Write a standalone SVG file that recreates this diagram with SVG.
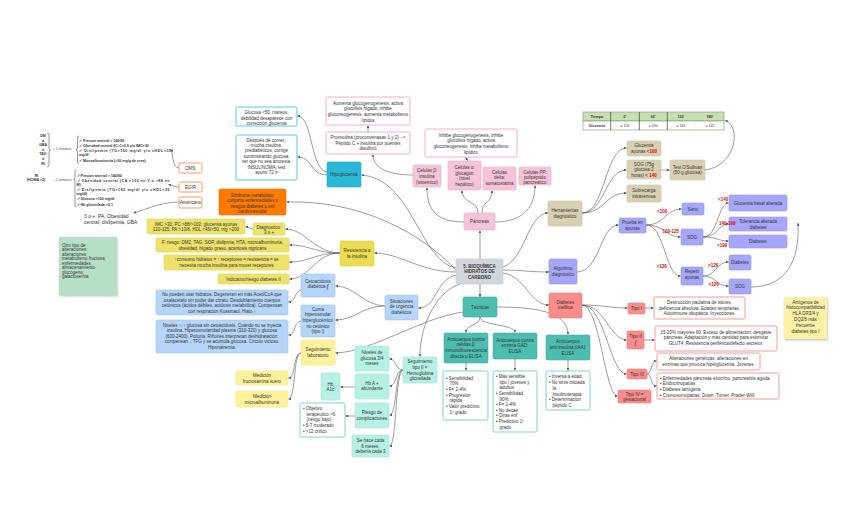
<svg xmlns="http://www.w3.org/2000/svg" width="848" height="530" viewBox="0 0 848 530">
<defs>
<marker id="ah" viewBox="0 0 10 10" refX="9" refY="5" markerWidth="3.2" markerHeight="3.2" markerUnits="userSpaceOnUse" orient="auto"><path d="M0,1 L10,5 L0,9 z" fill="#555"/></marker>
<filter id="sh" x="-10%" y="-10%" width="130%" height="130%"><feDropShadow dx="0.6" dy="1.2" stdDeviation="0.8" flood-color="#000" flood-opacity="0.25"/></filter>
</defs>
<style>
.c path{fill:none;stroke:#5a5a5a;stroke-width:0.6;marker-end:url(#ah)}
.br{fill:none;stroke:#333;stroke-width:0.5}
text{font-family:"Liberation Sans",Arial,sans-serif;font-size:4.5px;fill:#333}
.m{text-anchor:middle}
.bd{font-weight:bold}
.red{fill:#e00000;font-weight:bold}
.sm{font-size:3.6px}
.xs{font-size:3.2px;fill:#555}
.ic{font-family:"Liberation Serif",serif;font-style:italic;font-weight:bold;fill:#4a3ccc;text-decoration:underline;font-size:5.2px}
rect{stroke-width:0.6}
.gry rect{fill:#d3d6dd;stroke:#c4c7ce}
.yel rect{fill:#ecdc50;stroke:#ddcc40}
.yl1 rect{fill:#eee26a;stroke:#e2d455}
.yl2 rect{fill:#fff29c;stroke:#f2e488}
.blu rect{fill:#b5d5fb;stroke:#a2c4f0}
.tl rect{fill:#b5f2e4;stroke:#a2e6d6}
.tea rect{fill:#4cbdb1;stroke:#40aea2}
.pnk rect{fill:#f7c3d8;stroke:#eeb0c8}
.wpk rect{fill:#fff;stroke:#f2a6c4;stroke-width:0.9}
.cyn rect{fill:#2ab8d8;stroke:#20a9c9}
.wcy rect{fill:#fff;stroke:#3ec3e3;stroke-width:0.9}
.org rect{fill:#ff7a00;stroke:#f07000}
.wor rect{fill:#fff;stroke:#ff9040;stroke-width:0.9}
.tan rect{fill:#d8d0b2;stroke:#cbc3a3}
.pur rect{fill:#a6a6fa;stroke:#9494f0}
.sal rect{fill:#fa8c8c;stroke:#f07a7a}
.wsl rect{fill:#fff;stroke:#f59090;stroke-width:0.9}
.wtl rect{fill:#fff;stroke:#6fd0c4;stroke-width:0.9}
.nt1 rect{fill:#fbf2a6}
.nt2 rect{fill:#b6e0c6}
</style>
<rect width="848" height="530" fill="#fff"/>

<g id="connectors" class="c">
<path d="M480,259 L480,230.5"/>
<path d="M480,284 L480,297"/>
<path d="M503,270 C520,270 530,272 549,272"/>
<path d="M503,273 C525,276 530,305 549,305"/>
<path d="M503,267 C525,260 528,213 548,213"/>
<path d="M456,268 C420,262 412,178 361.5,175"/>
<path d="M456,270 C420,232 360,200 286.5,202"/>
<path d="M456,272 C420,272 400,253 374.5,253"/>
<path d="M456,275 C435,280 437,308 418.5,308"/>
<path d="M460,284 C440,290 420,320 420,356.5"/>
<path d="M463,312 C420,318 372,352 335.5,353"/>
<path d="M480,317 C480,326 466,324 466,332.5"/>
<path d="M480,317 C480,326 515,324 515,332.5"/>
<path d="M497,307 C545,307 568,315 568,334.5"/>
<path d="M466,363 L466,370.5"/>
<path d="M515,359 L515,370.5"/>
<path d="M568,360 L568,370.5"/>
<path d="M464,222 C432,222 427,205 427,187.5"/>
<path d="M478,213 C478,200 462,204 462,190.5"/>
<path d="M482,213 C482,200 492,204 492,190.5"/>
<path d="M495,222 C525,222 535,205 535,185.5"/>
<path d="M413,175 C392,175 373,170 373,154.5"/>
<path d="M368,132 L368,125.5"/>
<path d="M468,161 L465.5,157.5"/>
<path d="M327,172 C310,170 313,116 297.5,116"/>
<path d="M327,175 C310,175 313,157 297.5,157"/>
<path d="M340,253 C315,253 305,229 285.5,229"/>
<path d="M340,253 C315,253 310,245 289.5,245"/>
<path d="M340,253 C315,253 310,262 289.5,262"/>
<path d="M340,253 C315,253 310,279 289.5,279"/>
<path d="M253,229 C250,229 250,227 245.5,227"/>
<path d="M385,306 C362,305 355,286 335.5,286"/>
<path d="M385,306 C362,306 355,320 335.5,320"/>
<path d="M301,290 C294,292 296,302 288.5,302"/>
<path d="M301,321 C293,322 296,335 288.5,335"/>
<path d="M301,353 C293,353 296,378 288.5,378"/>
<path d="M301,353 C293,353 296,399 288.5,399"/>
<path d="M403,370 C395,370 397,359 389.5,359"/>
<path d="M403,370 C395,370 397,386 389.5,386"/>
<path d="M403,370 C395,370 397,415 389.5,415"/>
<path d="M403,370 C395,370 397,446 389.5,446"/>
<path d="M355,387 L340.5,387"/>
<path d="M355,416 L345.5,416"/>
<path d="M582,213 C605,213 605,148 626.5,148"/>
<path d="M582,213 C605,213 605,170 626.5,170"/>
<path d="M582,213 C605,213 605,193 626.5,193"/>
<path d="M661,170 L669.5,170"/>
<path d="M705,170 C736,166 742,126 725,120.5"/>
<path d="M577,272 C600,272 600,225 618.5,225"/>
<path d="M646,225 C665,225 665,209 681.5,209"/>
<path d="M646,225 C665,225 665,237 680.5,237"/>
<path d="M646,225 C665,225 665,276 680.5,276"/>
<path d="M703,237 C718,237 718,203 728.5,203"/>
<path d="M703,237 C718,237 718,224 728.5,224"/>
<path d="M703,237 C718,237 718,241 728.5,241"/>
<path d="M703,276 C716,276 716,262 728.5,262"/>
<path d="M703,276 C716,276 716,286 728.5,286"/>
<path d="M751,287 C785,287 800,262 798,223"/>
<path d="M582,305 C605,305 610,308 627.5,308"/>
<path d="M582,305 C605,305 610,340 626.5,340"/>
<path d="M582,305 C605,305 610,374 626.5,374"/>
<path d="M582,305 C600,305 605,396 617.5,396"/>
<path d="M645,308 L653.5,308"/>
<path d="M644,340 L654.5,340"/>
<path d="M647,374 C652,374 650,361 656.5,361"/>
<path d="M647,374 C652,374 650,386 656.5,386"/>
<path d="M179,168 C172,168 173,151 170.5,149.5"/>
<path d="M179,187 C175,187 172,185 168.5,184.5"/>
<path d="M179,202 C160,202 145,210 133.5,213"/>
</g>

<!-- left text blocks -->
<g id="criteria">
<text class="m bd sm" x="43" y="137"><tspan x="43">DM</tspan><tspan x="43" dy="4.6">ó</tspan><tspan x="43" dy="4.6">GBA</tspan><tspan x="43" dy="4.6">ó</tspan><tspan x="43" dy="4.6">TAG</tspan><tspan x="43" dy="4.6">ó</tspan><tspan x="43" dy="4.6">RI</tspan></text>
<path class="br" d="M47,133 Q49,133 49,135 L49,148 Q49,150 50.5,150 Q49,150 49,152 L49,165 Q49,167 47,167"/>
<text class="xs" x="53" y="150.3">+ 2 síntomas</text>
<path class="br" d="M79,136 Q77.5,136 77.5,138 L77.5,148 Q77.5,150 76,150 Q77.5,150 77.5,152 L77.5,162 Q77.5,164 79,164"/>
<text class="bd sm" x="79" y="142.2">✓ Presion arterial &gt; 140/90</text>
<text class="bd sm" x="79" y="147">✓ Obesidad central (IC-C&gt;0,9 y/o IMC&gt;30</text>
<text class="bd sm" x="79" y="152" textLength="92" lengthAdjust="spacing">✓ Dislipemia (TG&gt;160 mg/dl y/o cHDL&lt;35</text>
<text class="bd sm" x="79" y="156.3">mg/dl</text>
<text class="bd sm" x="79" y="161.5">✓ Microalbuminuria (&gt;30 mg/g de crea)</text>

<text class="m bd sm" x="36.5" y="176.5">RI</text>
<text class="m bd sm" x="36" y="180.6">(HOMA &gt;3)</text>
<text class="xs" x="53" y="180.5">+ 2 síntomas</text>
<path class="br" d="M76.5,170 Q75,170 75,172 L75,177 Q75,179 73.5,179 Q75,179 75,181 L75,205 Q75,207 76.5,207"/>
<text class="bd sm" x="76.5" y="176.6">✓ Presion arterial &gt; 140/90</text>
<text class="bd sm" x="76.5" y="181.6" textLength="93" lengthAdjust="spacing">✓ Obesidad central (CA &gt;102 en V o &gt;88 en</text>
<text class="bd sm" x="76.5" y="186">M)</text>
<text class="bd sm" x="76.5" y="190.6" textLength="93" lengthAdjust="spacing">✓ Dislipemia (TG&gt;160 mg/dl y/o cHDL&lt;35</text>
<text class="bd sm" x="76.5" y="195.3">mg/dl)</text>
<text class="bd sm" x="76.5" y="200.3">✓ Glucosa &gt;100 mg/dl</text>
<text class="bd sm" x="76.5" y="205.6">✓ Hb glicosilada &gt;6.1</text>

<text style="font-size:5px" x="84" y="217.5">3 o +: PA, Obesidad</text>
<text style="font-size:5px" x="84" y="223.6">central, dislipemia, GBA</text>
</g>

<g id="n-oms" class="wor"><rect x="179" y="163" width="23" height="10" rx="1.5"/><text class="m" x="190.5" y="169.5">OMS</text></g>
<g id="n-egir" class="wor"><rect x="179" y="182" width="23" height="10" rx="1.5"/><text class="m" x="190.5" y="188.5">EGIR</text></g>
<g id="n-americano" class="wor"><rect x="179" y="197" width="23" height="11" rx="1.5"/><text class="m" x="190.5" y="204">Americano</text></g>

<g id="n-central" class="gry"><rect x="456" y="259" width="47" height="25" rx="1.5"/><text class="m bd" x="479.5" y="267.5">5. BIOQUÍMICA</text><text class="m bd" x="479.5" y="273.2">HIDRATOS DE</text><text class="m bd" x="479.5" y="278.8">CARBONO</text></g>

<g id="n-pancreas" class="pnk"><rect x="464" y="213" width="31" height="17" rx="1.5"/><text class="m" x="479.5" y="223">Páncreas</text></g>
<g id="n-cbeta" class="pnk"><rect x="413" y="165" width="28" height="22" rx="1.5"/><text class="m" x="427" y="171.5">Celulas β:</text><text class="m" x="427" y="177.5">insulina</text><text class="m" x="427" y="183.5">(sistemico)</text></g>
<g id="n-calfa" class="pnk"><rect x="448" y="161" width="33" height="29" rx="1.5"/><text class="m" x="464.5" y="168.8">Celulas α:</text><text class="m" x="464.5" y="174.6">glucagón</text><text class="m" x="464.5" y="180.4">(nivel</text><text class="m" x="464.5" y="186.2">hepático)</text></g>
<g id="n-cdelta" class="pnk"><rect x="483" y="167" width="33" height="23" rx="1.5"/><text class="m" x="499.5" y="173.8">Celulas</text><text class="m" x="499.5" y="179.4">delta:</text><text class="m" x="499.5" y="185.2">somatostatina</text></g>
<g id="n-cpp" class="pnk"><rect x="519" y="167" width="32" height="18" rx="1.5"/><text class="m" x="535" y="173.6">Celulas PP:</text><text class="m" x="535" y="178.8">polipéptido</text><text class="m" x="535" y="184">pancreático</text></g>
<g id="n-inhibe" class="wpk"><rect x="425" y="129" width="92" height="28" rx="1.5"/><text class="m" x="471" y="136.6">Inhibe glucogenogenesis, inhibe</text><text class="m" x="471" y="142.2">glucólisis hígado, activa</text><text class="m" x="471" y="147.8">gluconeogenesis, inhibe metabolismo</text><text class="m" x="471" y="153.6">lipídico</text></g>
<g id="n-proinsulina" class="wpk"><rect x="326" y="132" width="84" height="22" rx="1.5"/><text class="m" x="368" y="138.8">Proinsulina (proconvertasas 1 y 2) --&gt;</text><text class="m" x="368" y="144.5">Péptido C + insulina por puentes</text><text class="m" x="368" y="150.2">disulfuro</text></g>
<g id="n-aumenta" class="wpk"><rect x="326" y="97" width="84" height="28" rx="1.5"/><text class="m" x="368" y="104.8">Aumenta glucogenogénesis, activa</text><text class="m" x="368" y="110.4">glucólisis hígado, inhibe</text><text class="m" x="368" y="116">gluconeogenesis, aumenta metabolismo</text><text class="m" x="368" y="121.6">lípidos</text></g>

<g id="n-hipoglucemia" class="cyn"><rect x="327" y="162" width="34" height="25" rx="1.5"/><text class="m" x="344" y="176.3">Hipoglucemia</text></g>
<g id="n-glucosa50" class="wcy"><rect x="236" y="107" width="61" height="19" rx="1.5"/><text class="m" x="266.5" y="114.2">Glucosa &lt;50, mareos,</text><text class="m" x="266.5" y="119.8">debilidad desaparece con</text><text class="m" x="266.5" y="125.2">corrección glucemia</text></g>
<g id="n-despues" class="wcy"><rect x="236" y="135" width="61" height="45" rx="1.5"/><text class="m" x="266.5" y="141.5">Después de comer,,</text><text class="m" x="266.5" y="146.9">mucha insulina,</text><text class="m" x="266.5" y="152.3">prediabéticos, corrige</text><text class="m" x="266.5" y="157.7">suministrando glucosa,</text><text class="m" x="266.5" y="163.1">ver que no sea anorexia,</text><text class="m" x="266.5" y="168.5">INSULINOMA, test</text><text class="m" x="266.5" y="173.9">ayuno 72 h</text></g>

<g id="n-sindrome" class="org"><rect x="219" y="189" width="67" height="26" rx="1.5"/><text class="m" x="252.5" y="196.5">Síndrome metabólico:</text><text class="m" x="252.5" y="202.1">conjunto enfermedades o</text><text class="m" x="252.5" y="207.7">riesgos diabetes o enf</text><text class="m" x="252.5" y="213.3">cardiovascular</text></g>

<g id="n-resistencia" class="yel"><rect x="340" y="241" width="34" height="25" rx="1.5"/><text class="m" x="357" y="252.2">Resistencia a</text><text class="m" x="357" y="257.6">la insulina</text></g>
<g id="n-diagnostico" class="yl1"><rect x="253" y="223" width="32" height="12" rx="1.5"/><text class="m" x="269" y="228.8">Diagnóstico:</text><text class="m" x="269" y="233.8">3 o +</text></g>
<g id="n-imc" class="yl1"><rect x="147" y="219" width="98" height="15" rx="1.5"/><text class="m" x="196" y="225.6">IMC &gt;30, PC &gt;88/&gt;102, glucemia ayunas</text><text class="m" x="196" y="231.4">110-125, PA &gt;13/8, HDL &lt;45/&lt;50, trig &gt;200</text></g>
<g id="n-friesgo" class="yl1"><rect x="156" y="238" width="133" height="14" rx="1.5"/><text class="m" x="222.5" y="244.2">F. riesgo: DM2, TAG, SOP, dislipmia, HTA, microalbuminuria,</text><text class="m" x="222.5" y="249.8">obesidad, hígado graso, acantosis nigricans</text></g>
<g id="n-consumo" class="yl1"><rect x="164" y="255" width="125" height="15" rx="1.5"/><text class="m" x="226.5" y="261.4">↑consumo hidratos = ↑ receptores = resistencia = se</text><text class="m" x="226.5" y="267.2">necesita mucha insulina para mover receptores</text></g>
<g id="n-indicativo" class="yl1"><rect x="218" y="274" width="71" height="10" rx="1.5"/><text class="m" x="253.5" y="280.5">Indicativo/riesgo diabetes II</text></g>

<g id="n-situaciones" class="blu"><rect x="385" y="295" width="33" height="25" rx="1.5"/><text class="m" x="401.5" y="302.5">Situaciones</text><text class="m" x="401.5" y="308.1">de urgencia</text><text class="m" x="401.5" y="313.7">diabéticos</text></g>
<g id="n-cetoacidosis" class="blu"><rect x="301" y="274" width="34" height="23" rx="1.5"/><text class="m" x="318" y="282.5">Cetoacidosis</text><text class="m" x="318" y="288.4">diabética <tspan class="ic">f</tspan></text></g>
<g id="n-coma" class="blu"><rect x="301" y="305" width="34" height="32" rx="1.5"/><text class="m" x="318" y="310.8">Coma</text><text class="m" x="318" y="316.4">hiperosmolar</text><text class="m" x="318" y="322">hiperglucémico</text><text class="m" x="318" y="327.6">no cetónico</text><text class="m" x="318" y="333.2">(tipo I)</text></g>
<g id="n-nopueden" class="blu"><rect x="156" y="290" width="132" height="25" rx="1.5"/><text class="m" x="222" y="296.2">No pueden usar hidratos. Degeneran en más AcetilCoA  que</text><text class="m" x="222" y="301.8">oxalacetato sin poder dar citrato. Desdoblamiento cuerpos</text><text class="m" x="222" y="307.4">cetónicos (ácidos débiles, acidosis metabólica). Compensan</text><text class="m" x="222" y="313">con respiración Kussmaul. Hiato ↑</text></g>
<g id="n-niveles" class="blu"><rect x="156" y="320" width="132" height="33" rx="1.5"/><text class="m" x="222" y="326.5">Niveles ↑↑↑ glucosa sin cetoacidosis. Cuando no se inyecta</text><text class="m" x="222" y="332.1">insulina. Hiperosmolaridad plasma (310-320) y glucosa</text><text class="m" x="222" y="337.7">(600-2400). Poliuria. Riñones interpretan deshidratación:</text><text class="m" x="222" y="343.3">compensan ↓ TFG y se acumula glucosa. Círculo vicioso.</text><text class="m" x="222" y="348.9">Hiponatremia.</text></g>

<g id="n-seglab" class="yl2"><rect x="301" y="340" width="34" height="25" rx="1.5"/><text class="m" x="318" y="350.8">Seguimiento</text><text class="m" x="318" y="356.6">laboratorio</text></g>
<g id="n-fructosamina" class="yl2"><rect x="236" y="371" width="52" height="14" rx="1.5"/><text class="m" x="262" y="377.3">Medición</text><text class="m" x="262" y="382.6">fructosamina suero</text></g>
<g id="n-microalb" class="yl2"><rect x="236" y="391" width="52" height="16" rx="1.5"/><text class="m" x="262" y="398.2">Medición</text><text class="m" x="262" y="403.8">microalbuminuria</text></g>

<g id="n-segII" class="tl"><rect x="403" y="357" width="34" height="26" rx="1.5"/><text class="m" x="420" y="363.2">Seguimiento</text><text class="m" x="420" y="368.9">tipo II =</text><text class="m" x="420" y="374.6">Hemoglobina</text><text class="m" x="420" y="380.3">glicosilada</text></g>
<g id="n-nivglu" class="tl"><rect x="355" y="346" width="34" height="25" rx="1.5"/><text class="m" x="372" y="354.2">Niveles de</text><text class="m" x="372" y="359.8">glucosa 3/4</text><text class="m" x="372" y="365.4">meses</text></g>
<g id="n-hba" class="tl"><rect x="355" y="374" width="34" height="25" rx="1.5"/><text class="m" x="372" y="384.8">Hb A +</text><text class="m" x="372" y="390.4">abundante</text></g>
<g id="n-riesgo" class="tl"><rect x="355" y="403" width="34" height="25" rx="1.5"/><text class="m" x="372" y="414.2">Riesgo de</text><text class="m" x="372" y="419.8">complicaciones</text></g>
<g id="n-sehace" class="tl"><rect x="352" y="435" width="37" height="22" rx="1.5"/><text class="m" x="370.5" y="441.8">Se hace cada</text><text class="m" x="370.5" y="447.5">6 meses,</text><text class="m" x="370.5" y="453.2">debería cada 3</text></g>
<g id="n-hba1c" class="tl"><rect x="321" y="373" width="19" height="27" rx="1.5"/><text class="m" x="330.5" y="385.8">Hb</text><text class="m" x="330.5" y="391.2">A1c</text></g>
<g id="n-objetivo" class="wtl"><rect x="300" y="403" width="45" height="34" rx="1.5"/><text x="303" y="410.2">• Objetivo</text><text x="306.5" y="415.8">terapéutico &lt;6</text><text x="306.5" y="421.4">(riesgo bajo)</text><text x="303" y="427">• 6-7 moderado</text><text x="303" y="432.6">• &gt;12 crítico</text></g>

<g id="n-tecnicas" class="tea"><rect x="463" y="297" width="34" height="20" rx="1.5"/><text class="m" x="480" y="308.6">Técnicas</text></g>
<g id="n-abbeta" class="tea"><rect x="444" y="333" width="44" height="30" rx="1.5"/><text class="m" x="466" y="340.6">Anticuerpos contra</text><text class="m" x="466" y="346.4">células β:</text><text class="m" x="466" y="352.2">inmunofluorescencia</text><text class="m" x="466" y="358">directa o ELISA</text></g>
<g id="n-abgad" class="tea"><rect x="493" y="333" width="44" height="26" rx="1.5"/><text class="m" x="515" y="341.5">Anticuerpos contra</text><text class="m" x="515" y="347.3">enzima GAD:</text><text class="m" x="515" y="353.1">ELISA</text></g>
<g id="n-abiaa" class="tea"><rect x="546" y="335" width="44" height="25" rx="1.5"/><text class="m" x="568" y="343">Anticuerpos</text><text class="m" x="568" y="348.8">anti-insulina (IAA):</text><text class="m" x="568" y="354.6">ELISA</text></g>
<g id="n-list1" class="wtl"><rect x="443" y="371" width="45" height="49" rx="1.5"/><text x="446" y="379.5">• Sensibilidad</text><text x="449.5" y="385.2">70%</text><text x="446" y="390.9">• F= 2-4%</text><text x="446" y="396.6">• Progresión</text><text x="449.5" y="402.3">rápida</text><text x="446" y="408">• Valor predictivo</text><text x="449.5" y="413.7">1º grado</text></g>
<g id="n-list2" class="wtl"><rect x="493" y="371" width="44" height="61" rx="1.5"/><text x="496" y="378.2">• Más sensible</text><text x="499.5" y="383.8">tipo I jóvenes y</text><text x="499.5" y="389.4">adultos</text><text x="496" y="395">• Sensibilidad</text><text x="499.5" y="400.6">90%</text><text x="496" y="406.2">• F= 2-4%</text><text x="496" y="411.8">• No decae</text><text x="496" y="417.4">• Otras enf</text><text x="496" y="423">• Predictivo 1º</text><text x="499.5" y="428.6">grado</text></g>
<g id="n-list3" class="wtl"><rect x="546" y="371" width="44" height="39" rx="1.5"/><text x="549" y="378.2">• Inversa a edad</text><text x="549" y="384">• No sirve iniciada</text><text x="552.5" y="389.8">la</text><text x="552.5" y="395.6">insulinoterapia</text><text x="549" y="401.4">• Determinación</text><text x="552.5" y="407.2">péptido C</text></g>

<g id="n-algoritmo" class="pur"><rect x="549" y="259" width="28" height="25" rx="1.5"/><text class="m" x="563" y="270.2">Algoritmo</text><text class="m" x="563" y="275.6">diagnóstico</text></g>
<g id="n-prueba" class="pur"><rect x="619" y="218" width="27" height="15" rx="1.5"/><text class="m" x="632.5" y="224.2">Prueba en</text><text class="m" x="632.5" y="229.8">ayunas</text></g>
<g id="n-sano" class="pur"><rect x="682" y="203" width="22" height="12" rx="1.5"/><text class="m" x="693" y="210.5">Sano</text></g>
<g id="n-sog1" class="pur"><rect x="681" y="229" width="22" height="16" rx="1.5"/><text class="m" x="692" y="238.5">SOG</text></g>
<g id="n-repetir" class="pur"><rect x="681" y="267" width="22" height="18" rx="1.5"/><text class="m" x="692" y="273.4">Repetir</text><text class="m" x="692" y="279">ayunas</text></g>
<g id="n-gba" class="pur"><rect x="729" y="195" width="58" height="16" rx="1.5"/><text class="m" x="758" y="204.5">Glucemia basal alterada</text></g>
<g id="n-tolerancia" class="pur"><rect x="729" y="217" width="58" height="14" rx="1.5"/><text class="m" x="758" y="223.2">Tolerancia alterada</text><text class="m" x="758" y="228.8">diabetes</text></g>
<g id="n-diabetes1" class="pur"><rect x="729" y="235" width="58" height="13" rx="1.5"/><text class="m" x="758" y="243">Diabetes</text></g>
<g id="n-diabetes2" class="pur"><rect x="729" y="255" width="22" height="15" rx="1.5"/><text class="m" x="740" y="264">Diabetes</text></g>
<g id="n-sog2" class="pur"><rect x="729" y="279" width="22" height="15" rx="1.5"/><text class="m" x="740" y="288">SOG</text></g>

<g id="labels">
<text class="red" x="657" y="213.4">&lt;100</text>
<text class="red" x="662.5" y="233.4">100-125</text>
<text class="red" x="656.5" y="268">&gt;126</text>
<text class="red" x="718" y="201.4">&lt;140</text>
<text class="red" x="719" y="224.6">140-199</text>
<text class="red" x="717" y="246.6">&gt;199</text>
<text class="red" x="708" y="266.6">&gt;126</text>
<text class="red" x="708.5" y="286">&lt;126</text>
</g>

<g id="n-herramientas" class="tan"><rect x="548" y="201" width="34" height="25" rx="1.5"/><text class="m" x="565" y="212.4">Herramientas</text><text class="m" x="565" y="218">diagnóstico</text></g>
<g id="n-glucayunas" class="tan"><rect x="627" y="141" width="34" height="15" rx="1.5"/><text class="m" x="644" y="147">Glucemia</text><text class="m" x="644" y="152.6">ayunas <tspan class="red">&lt;100</tspan></text></g>
<g id="n-sog75" class="tan"><rect x="627" y="160" width="34" height="19" rx="1.5"/><text class="m" x="644" y="165.8">SOG (75g</text><text class="m" x="644" y="171.4">glucosa 2</text><text class="m" x="644" y="177">horas) <tspan class="red">&lt; 140</tspan></text></g>
<g id="n-sobrecarga" class="tan"><rect x="627" y="185" width="34" height="17" rx="1.5"/><text class="m" x="644" y="192.4">Sobrecarga</text><text class="m" x="644" y="197.8">intravenosa</text></g>
<g id="n-osullivan" class="tan"><rect x="670" y="160" width="35" height="20" rx="1.5"/><text class="m" x="687.5" y="168.5">Test O'Sullivan</text><text class="m" x="687.5" y="174.2">(50 g glucosa)</text></g>

<g id="n-tabla">
<rect x="583" y="112" width="141" height="9" fill="#c6e0b4" stroke="#7a9a6a" stroke-width="0.6"/>
<rect x="583" y="121" width="141" height="9" fill="#fff" stroke="#7a9a6a" stroke-width="0.6"/>
<path d="M610.7,112 V130 M639.3,112 V130 M667.3,112 V130" stroke="#4a5a40" stroke-width="0.8"/>
<path d="M695,112 V130" stroke="#c8d8bc" stroke-width="0.3"/>
<text class="m bd sm" x="596.8" y="117.8">Tiempo</text><text class="m bd sm" x="625" y="117.8">0'</text><text class="m bd sm" x="653.3" y="117.8">60'</text><text class="m bd sm" x="681" y="117.8">120'</text><text class="m bd sm" x="710" y="117.8">180'</text>
<text class="m bd sm" x="596.8" y="126.8">Glucemia</text><text class="m sm" x="625" y="126.8">≤ 105</text><text class="m sm" x="653.3" y="126.8">≤ 190</text><text class="m sm" x="681" y="126.8">≤ 165</text><text class="m sm" x="710" y="126.8">≤ 145</text>
</g>

<g id="n-dm" class="sal"><rect x="549" y="293" width="33" height="25" rx="1.5"/><text class="m" x="565.5" y="303.6">Diabetes</text><text class="m" x="565.5" y="309.2">mellitus</text></g>
<g id="n-tipo1" class="sal"><rect x="628" y="303" width="17" height="11" rx="1.5"/><text class="m" x="636.5" y="310">Tipo I</text></g>
<g id="n-tipo2" class="sal"><rect x="627" y="331" width="17" height="18" rx="1.5"/><text class="m" x="635.5" y="338.2">Tipo II</text><text class="m" x="635.5" y="344.4"><tspan class="ic">f</tspan></text></g>
<g id="n-tipo3" class="sal"><rect x="627" y="369" width="20" height="10" rx="1.5"/><text class="m" x="637" y="375.6">Tipo III</text></g>
<g id="n-tipo4" class="sal"><rect x="618" y="390" width="33" height="13" rx="1.5"/><text class="m" x="634.5" y="396">Tipo IV =</text><text class="m" x="634.5" y="401.4">gestacional</text></g>
<g id="n-destruccion" class="wsl"><rect x="654" y="297" width="91" height="22" rx="1.5"/><text class="m" x="699.5" y="304.2">Destrucción paulatina de islotes,</text><text class="m" x="699.5" y="309.8">deficiencia absoluta. Edades tempranas.</text><text class="m" x="699.5" y="315.4">Autoinmune idiopática. Inyecciones.</text></g>
<g id="n-1520" class="wsl"><rect x="655" y="326" width="122" height="25" rx="1.5"/><text class="m" x="716" y="333.8">15-20% mayores 60. Exceso de alimentación, desgaste</text><text class="m" x="716" y="339.3">páncreas. Adaptación y más cantidad para estimular</text><text class="m" x="716" y="344.8">GLUT4. Resistencia periférica/defecto secretor.</text></g>
<g id="n-alteraciones" class="wsl"><rect x="657" y="353" width="103" height="17" rx="1.5"/><text class="m" x="708.5" y="359.8">Alteraciones genéticas: alteraciones en</text><text class="m" x="708.5" y="365.5">enzimas que provoca hiperglucemia. Jóvenes.</text></g>
<g id="n-enfermedades" class="wsl"><rect x="657" y="373" width="122" height="26" rx="1.5"/><text x="660" y="379.5">• Enfermedades páncreas exocrino: pancreatitis aguda.</text><text x="660" y="385.2">• Endocrinopatías</text><text x="660" y="390.9">• Diabetes iatrógena</text><text x="660" y="396.6">• Cromosomopatías: Down, Turner, Prader-Willi</text></g>

<g id="n-antigenos" class="nt1"><rect x="784" y="297" width="43" height="42" filter="url(#sh)"/><text class="m" x="805.5" y="303.5">Antígenos de</text><text class="m" x="805.5" y="309.4">histocompatibilidad</text><text class="m" x="805.5" y="315.3">HLA DR3/4 y</text><text class="m" x="805.5" y="321.2">DQ2/8 más</text><text class="m" x="805.5" y="327.1">frecuente</text><text class="m" x="805.5" y="333">diabetes tipo I</text></g>
<g id="n-otrotipo" class="nt2"><rect x="59" y="237" width="58" height="58" filter="url(#sh)"/><text x="62" y="246.8">Otro tipo de</text><text x="62" y="251.3">alteraciones:</text><text x="62" y="255.8">alteraciones</text><text x="62" y="260.3">metabolismo fructosa,</text><text x="62" y="264.8">enfermedades</text><text x="62" y="269.3">almacenamiento</text><text x="62" y="273.8">glucógeno,</text><text x="62" y="278.3">galactosemia</text></g>
</svg>
